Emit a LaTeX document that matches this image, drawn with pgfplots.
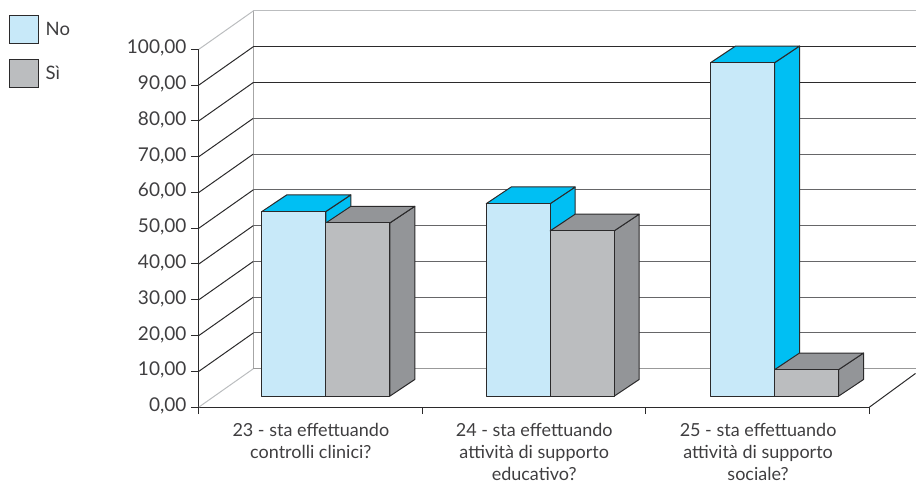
\documentclass[border=0pt]{standalone}
\usepackage{pgfplots}
\usepackage{fontspec}
\setmainfont{Lato}
\pgfplotsset{compat=1.18}
\definecolor{lblue}{HTML}{C8E9F9}
\definecolor{cyanb}{HTML}{00BFF3}
\definecolor{gfront}{HTML}{BBBDBF}
\definecolor{gside}{HTML}{939598}
\definecolor{ink}{HTML}{2B2A2B}
\definecolor{mid}{HTML}{666668}
\definecolor{txt}{HTML}{3F3E40}
% one 3D bar: x0, value, front colour, side and top colour
\newcommand{\threedbar}[4]{%
  \pgfmathsetmacro\xa{#1}\pgfmathsetmacro\xb{#1+64}%
  \pgfmathsetmacro\xc{#1+25}\pgfmathsetmacro\xd{#1+89}%
  \pgfmathsetmacro\ya{3.05}\pgfmathsetmacro\yb{3.05+4.66}%
  \pgfmathsetmacro\yc{3.05+#2}\pgfmathsetmacro\yd{3.05+#2+4.66}%
  \edef\tmp{\noexpand\addplot[forget plot,draw=ink,line width=1pt,line join=round,fill=#4] coordinates {(\xb,\ya)(\xd,\yb)(\xd,\yd)(\xb,\yc)} -- cycle;
  \noexpand\addplot[forget plot,draw=ink,line width=1pt,line join=round,fill=#4] coordinates {(\xa,\yc)(\xc,\yd)(\xd,\yd)(\xb,\yc)} -- cycle;
  \noexpand\addplot[forget plot,draw=ink,line width=1pt,line join=round,fill=#3] coordinates {(\xa,\ya)(\xb,\ya)(\xb,\yc)(\xa,\yc)} -- cycle;}%
  \tmp}
% one gridline: value, wall colour, back colour
\newcommand{\gridrow}[3]{%
  \pgfmathsetmacro\yy{#1+10.72}%
  \edef\tmp{\noexpand\addplot[forget plot,draw=#2,line width=1pt] coordinates {(199,#1)(253.5,\yy)};
  \noexpand\addplot[forget plot,draw=#3,line width=1pt] coordinates {(253.5,\yy)(916,\yy)};}%
  \tmp}
\begin{document}
\begin{tikzpicture}
\begin{axis}[
  scale only axis,width=671pt,height=358pt,
  xmin=199,xmax=870,ymin=0,ymax=100,clip=false,
  axis x line*=bottom,axis y line*=left,
  axis line style={draw=ink,line width=1pt},
  tick style={draw=ink,line width=1pt},
  tick align=outside,major tick length=8pt,
  major x tick style={draw=none},
  ytick={0,10,...,100},
  xtick={311,534.5,758.5},
  xticklabels={{23 - sta effettuando\\controlli clinici?},{24 - sta effettuando\\attività di supporto\\educativo?},{25 - sta effettuando\\attività di supporto\\sociale?}},
  minor xtick={199,422.7,646.3,870},
  minor tick length=7pt,
  xticklabel style={align=center,font=\fontsize{18}{22}\selectfont,text=txt,yshift=-5pt},
  yticklabel style={font=\fontsize{19}{22}\selectfont,text=txt,xshift=-1pt,yshift=1pt},
  /pgf/number format/.cd,fixed,fixed zerofill,precision=2,use comma,assume math mode=true,
  /pgfplots/.cd,
  legend style={at={(axis cs:9,109.7)},anchor=north west,draw=none,fill=none,font=\fontsize{18.5}{20}\selectfont,text=txt,row sep=15pt,inner sep=0pt,nodes={inner sep=0.5pt}},
  legend cell align=left,
  legend image code/.code={\draw[#1] (0pt,-14pt) rectangle (29pt,14pt);\path (35pt,0pt);},
]
\addlegendimage{draw=ink,line width=1pt,fill=lblue}
\addlegendentry{No}
\addlegendimage{draw=ink,line width=1pt,fill=gfront}
\addlegendentry{Sì}
% walls
\addplot[forget plot,draw=gray!70,line width=1pt] coordinates {(253.5,10.72)(253.5,110.72)};
\addplot[forget plot,draw=ink,line width=1pt] coordinates {(870,0)(916,9.4)};
\gridrow{0}{gfront}{gray!80}
\gridrow{10}{ink}{mid}
\gridrow{20}{ink}{mid}
\gridrow{30}{ink}{mid}
\gridrow{40}{ink}{mid}
\gridrow{50}{ink}{mid}
\gridrow{60}{ink}{mid}
\gridrow{70}{ink}{mid}
\gridrow{80}{ink}{ink}
\gridrow{90}{ink}{ink}
\gridrow{100}{gfront}{gfront}
% bars
\threedbar{262}{51.6}{lblue}{cyanb}
\threedbar{326}{48.4}{gfront}{gside}
\threedbar{486.5}{53.8}{lblue}{cyanb}
\threedbar{550.5}{46.2}{gfront}{gside}
\threedbar{711}{93.2}{lblue}{cyanb}
\threedbar{775}{7.4}{gfront}{gside}
\end{axis}
\path[use as bounding box] (-199pt,-72.7pt) rectangle (717pt,407.3pt);
\end{tikzpicture}
\end{document}
